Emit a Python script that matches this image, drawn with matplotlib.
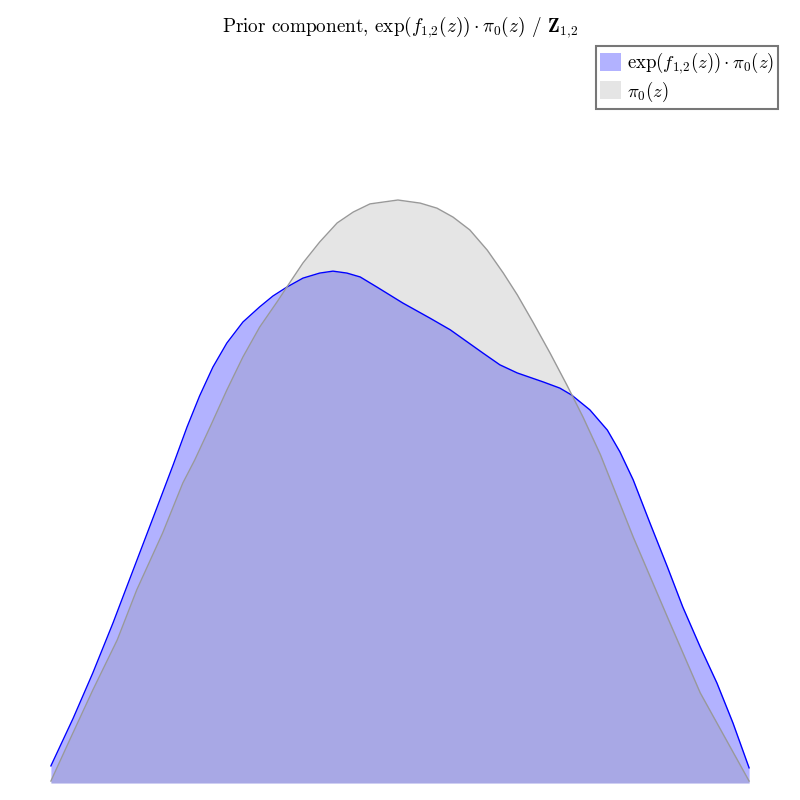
import numpy as np
import matplotlib
matplotlib.use("Agg")
import matplotlib.pyplot as plt

plt.rcParams['font.family'] = 'serif'
plt.rcParams['font.serif'] = ['cmr10']
plt.rcParams['mathtext.fontset'] = 'cm'
plt.rcParams['axes.formatter.use_mathtext'] = True

# pi_0(z)
z_prior = [0.000, 0.027, 0.060, 0.095, 0.123, 0.160, 0.189, 0.206, 0.228, 0.252,
           0.275, 0.299, 0.324, 0.342, 0.361, 0.385, 0.410, 0.433, 0.457, 0.497,
           0.529, 0.553, 0.576, 0.600, 0.625, 0.648, 0.668, 0.691, 0.715, 0.739,
           0.762, 0.787, 0.834, 0.883, 0.930, 1.000]
p_prior = [0.005, 0.111, 0.239, 0.368, 0.497, 0.643, 0.772, 0.831, 0.916, 1.011,
           1.096, 1.173, 1.238, 1.287, 1.338, 1.392, 1.441, 1.469, 1.490, 1.500,
           1.492, 1.479, 1.456, 1.423, 1.371, 1.312, 1.256, 1.184, 1.106, 1.024,
           0.942, 0.845, 0.633, 0.427, 0.232, 0.005]

# exp(f_12(z)) * pi_0(z)
z_comp = [0.000, 0.032, 0.060, 0.089, 0.107, 0.138, 0.156, 0.175, 0.195, 0.213,
          0.232, 0.252, 0.275, 0.299, 0.318, 0.338, 0.361, 0.385, 0.404, 0.424,
          0.443, 0.467, 0.504, 0.543, 0.572, 0.619, 0.643, 0.668, 0.705, 0.729,
          0.746, 0.772, 0.797, 0.815, 0.834, 0.858, 0.883, 0.905, 0.930, 0.954,
          0.977, 1.000]
p_comp = [0.044, 0.167, 0.283, 0.412, 0.497, 0.643, 0.728, 0.818, 0.916, 0.996,
          1.070, 1.132, 1.186, 1.225, 1.253, 1.276, 1.299, 1.312, 1.317, 1.312,
          1.302, 1.276, 1.235, 1.196, 1.166, 1.106, 1.076, 1.055, 1.032, 1.016,
          0.998, 0.960, 0.908, 0.852, 0.780, 0.669, 0.556, 0.453, 0.350, 0.257,
          0.154, 0.039]

fig = plt.figure(figsize=(8, 8), dpi=100)
ax = fig.add_axes([16 / 800, 17 / 800, 768 / 800, 743 / 800])

ax.fill_between(z_comp, p_comp, color='blue', alpha=0.3, linewidth=0,
                label=r'$\exp(f_{1{,}2}(z)) \cdot \pi_0(z)$')
ax.plot(z_comp, p_comp, color='blue', lw=1)
ax.fill_between(z_prior, p_prior, color='gray', alpha=0.2, linewidth=0,
                label=r'$\pi_0(z)$')
ax.plot(z_prior, p_prior, color='#999999', lw=1)

ax.set_ylim(0, 1.9117)
ax.axis('off')
ax.set_title(r'Prior component, $\exp(f_{1{,}2}(z)) \cdot \pi_0(z)$ / $\mathbf{Z}_{1{,}2}$',
             fontsize=13.8)

leg = ax.legend(loc='upper right', fontsize=13.5, fancybox=False, framealpha=1,
                edgecolor='#777777', handlelength=1.1, handleheight=1.1,
                handletextpad=0.3, borderpad=0.25, labelspacing=0.2,
                borderaxespad=0.3)
leg.get_frame().set_linewidth(1.5)

fig.savefig('out.png', dpi=100)
